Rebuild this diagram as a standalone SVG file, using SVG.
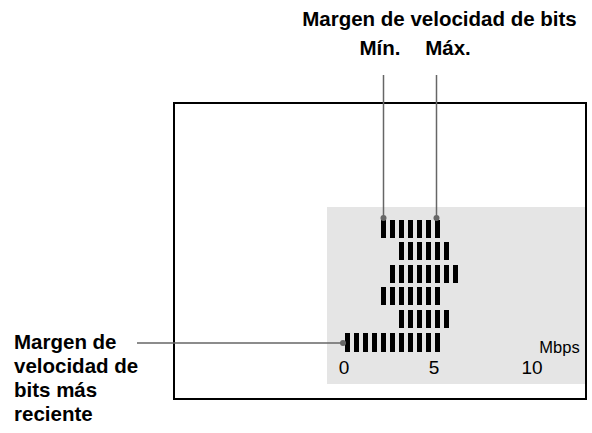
<svg xmlns="http://www.w3.org/2000/svg" width="592" height="433" viewBox="0 0 592 433">
<style>
.lbl{font-family:"Liberation Sans",Arial,sans-serif;font-weight:700;font-size:20.5px;fill:#000}
.ax{font-family:"Liberation Sans",Arial,sans-serif;font-size:19px;fill:#000}
.bar{stroke:#000;stroke-width:18;stroke-dasharray:5 4;fill:none}
.lead{stroke:#666;stroke-width:1.5;fill:none}
.dot{fill:#666}
</style>
<rect width="592" height="433" fill="#fff"/>
<g id="screen">
<rect x="174" y="103" width="412" height="296" fill="#fff" stroke="#000" stroke-width="2"/>
<rect x="327" y="207" width="258" height="177" fill="#e5e5e5"/>
</g>
<g id="bars">
<line class="bar" x1="381" y1="229" x2="440" y2="229"/>
<line class="bar" x1="399" y1="251" x2="449" y2="251"/>
<line class="bar" x1="390" y1="274" x2="458" y2="274"/>
<line class="bar" x1="381" y1="296" x2="440" y2="296"/>
<line class="bar" x1="399" y1="319" x2="449" y2="319"/>
<line class="bar" x1="345" y1="342.5" x2="440" y2="342.5" style="stroke-width:19"/>
</g>
<g id="axis">
<text class="ax" x="344" y="374" text-anchor="middle">0</text>
<text class="ax" x="434" y="374" text-anchor="middle">5</text>
<text class="ax" x="532" y="374" text-anchor="middle">10</text>
<text class="ax" x="559.5" y="353" text-anchor="middle" style="font-size:16.5px">Mbps</text>
</g>
<g id="labels">
<text class="lbl" x="439.5" y="26" text-anchor="middle">Margen de velocidad de bits</text>
<text class="lbl" x="380" y="55" text-anchor="middle">Mín.</text>
<text class="lbl" x="448" y="55" text-anchor="middle">Máx.</text>
<text class="lbl" x="14" y="349">Margen de</text>
<text class="lbl" x="14" y="373">velocidad de</text>
<text class="lbl" x="14" y="397">bits más</text>
<text class="lbl" x="14" y="421">reciente</text>
</g>
<g id="connectors">
<line class="lead" x1="383.5" y1="75" x2="383.5" y2="218"/>
<line class="lead" x1="436.5" y1="75" x2="436.5" y2="218"/>
<line class="lead" x1="137" y1="343" x2="343" y2="343"/>
<circle class="dot" cx="383.5" cy="218" r="3"/>
<circle class="dot" cx="436.5" cy="218" r="3"/>
<circle class="dot" cx="343" cy="343" r="3"/>
</g>
</svg>
